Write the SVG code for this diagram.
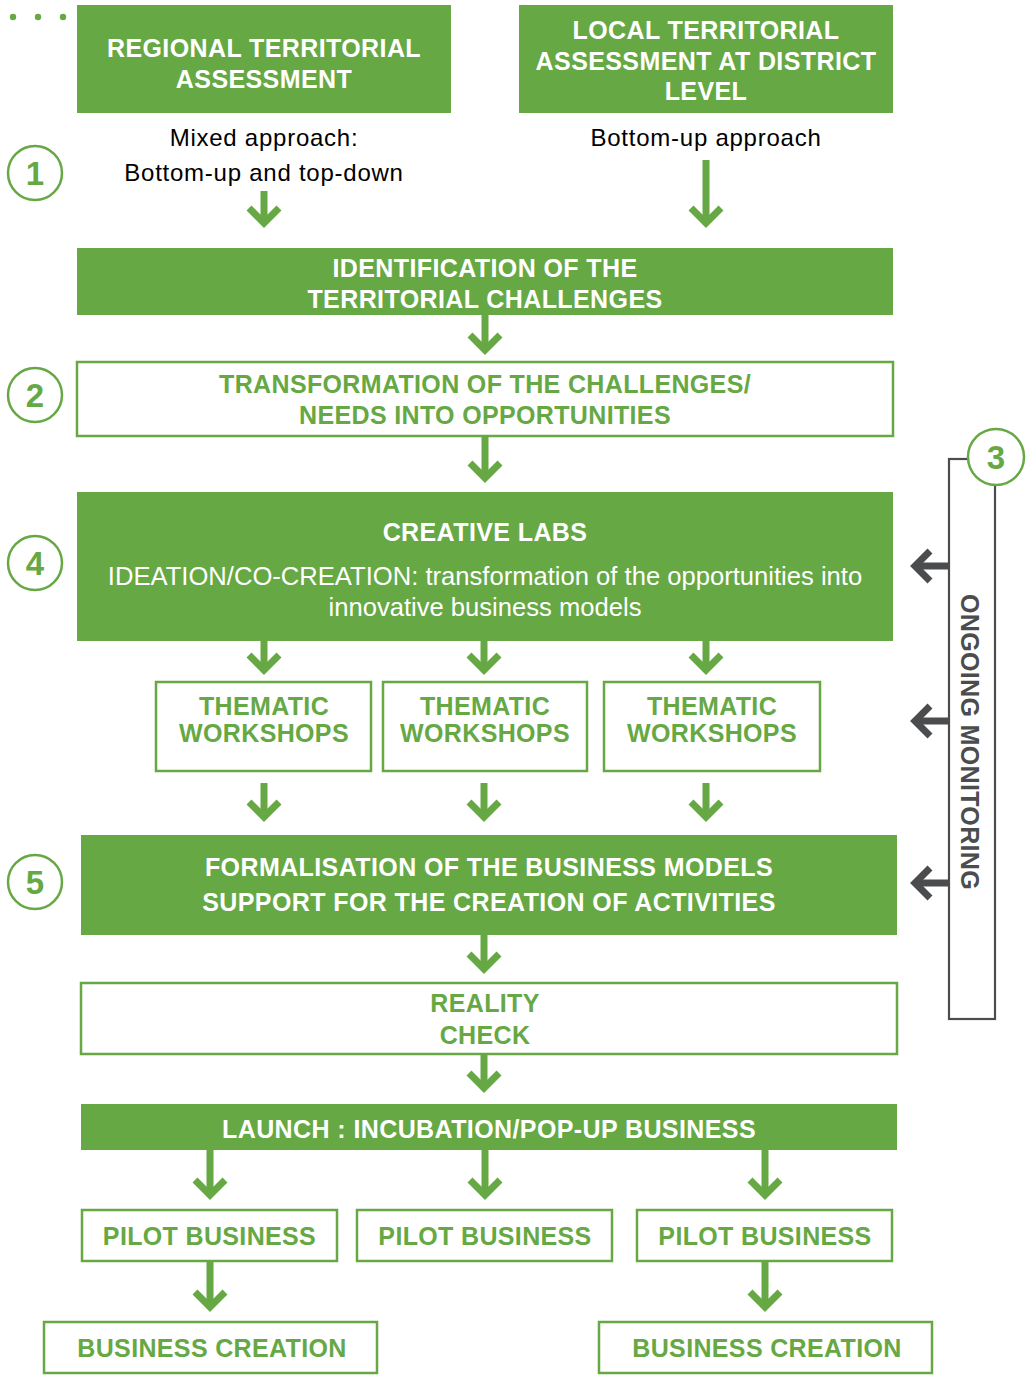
<svg xmlns="http://www.w3.org/2000/svg" width="1031" height="1378" viewBox="0 0 1031 1378">
  <style>
    .fill{fill:#66a844}
    .out{fill:#ffffff;stroke:#66a844;stroke-width:2.5}
    .tw{font-family:"Liberation Sans",Arial,sans-serif;font-weight:bold;font-size:25px;fill:#ffffff;text-anchor:middle;letter-spacing:0.4px}
    .tg{font-family:"Liberation Sans",Arial,sans-serif;font-weight:bold;font-size:25px;fill:#66a844;text-anchor:middle;letter-spacing:0.35px}
    .rw{font-family:"Liberation Sans",Arial,sans-serif;font-size:25.6px;fill:#ffffff;text-anchor:middle}
    .rk{font-family:"Liberation Sans",Arial,sans-serif;font-size:24px;fill:#000000;text-anchor:middle;letter-spacing:0.75px}
    .num{fill:#ffffff;stroke:#66a844;stroke-width:2.5}
    .numt{font-family:"Liberation Sans",Arial,sans-serif;font-weight:bold;font-size:33px;fill:#66a844;text-anchor:middle}
    .conn{stroke:#66a844;stroke-width:7;fill:none}
    .gconn{stroke:#4b4c4e;stroke-width:7;fill:none}
  </style>
  <defs>
    <marker id="ah" markerUnits="userSpaceOnUse" viewBox="-22 -22 44 44" markerWidth="44" markerHeight="44" refX="0" refY="0" orient="auto">
      <path d="M-15,-15 L0,0 L-15,15" fill="none" stroke="#66a844" stroke-width="7" stroke-miterlimit="10"/>
    </marker>
    <marker id="gh" markerUnits="userSpaceOnUse" viewBox="-22 -22 44 44" markerWidth="44" markerHeight="44" refX="0" refY="0" orient="auto">
      <path d="M-15,-15 L0,0 L-15,15" fill="none" stroke="#4b4c4e" stroke-width="7" stroke-miterlimit="10"/>
    </marker>
  </defs>
  <rect width="1031" height="1378" fill="#ffffff"/>

  <g id="dots" class="fill">
    <circle cx="13" cy="17" r="3.2"/>
    <circle cx="38" cy="17" r="3.2"/>
    <circle cx="63" cy="17" r="3.2"/>
  </g>

  <g id="regional">
    <rect class="fill" x="77" y="5" width="374" height="108"/>
    <text class="tw" x="264" y="57">REGIONAL TERRITORIAL</text>
    <text class="tw" x="264" y="88">ASSESSMENT</text>
  </g>
  <g id="local">
    <rect class="fill" x="519" y="5" width="374" height="108"/>
    <text class="tw" x="706" y="39">LOCAL TERRITORIAL</text>
    <text class="tw" x="706" y="70">ASSESSMENT AT DISTRICT</text>
    <text class="tw" x="706" y="100">LEVEL</text>
  </g>
  <g id="label-mixed">
    <text class="rk" x="264" y="146">Mixed approach:</text>
    <text class="rk" x="264" y="181">Bottom-up and top-down</text>
  </g>
  <g id="label-bottomup">
    <text class="rk" x="706" y="146">Bottom-up approach</text>
  </g>

  <g id="identification">
    <rect class="fill" x="77" y="248" width="816" height="67"/>
    <text class="tw" x="485" y="277">IDENTIFICATION OF THE</text>
    <text class="tw" x="485" y="308">TERRITORIAL CHALLENGES</text>
  </g>
  <g id="transformation">
    <rect class="out" x="77" y="362" width="816" height="74"/>
    <text class="tg" x="485" y="393">TRANSFORMATION OF THE CHALLENGES/</text>
    <text class="tg" x="485" y="424">NEEDS INTO OPPORTUNITIES</text>
  </g>
  <g id="creative-labs">
    <rect class="fill" x="77" y="492" width="816" height="149"/>
    <text class="tw" x="485" y="541">CREATIVE LABS</text>
    <text class="rw" x="485" y="585">IDEATION/CO-CREATION: transformation of the opportunities into</text>
    <text class="rw" x="485" y="616">innovative business models</text>
  </g>
  <g id="workshop-1">
    <rect class="out" x="156" y="682" width="215" height="89"/>
    <text class="tg" x="264" y="715">THEMATIC</text>
    <text class="tg" x="264" y="742">WORKSHOPS</text>
  </g>
  <g id="workshop-2">
    <rect class="out" x="383" y="682" width="204" height="89"/>
    <text class="tg" x="485" y="715">THEMATIC</text>
    <text class="tg" x="485" y="742">WORKSHOPS</text>
  </g>
  <g id="workshop-3">
    <rect class="out" x="604" y="682" width="216" height="89"/>
    <text class="tg" x="712" y="715">THEMATIC</text>
    <text class="tg" x="712" y="742">WORKSHOPS</text>
  </g>
  <g id="formalisation">
    <rect class="fill" x="81" y="835" width="816" height="100"/>
    <text class="tw" x="489" y="876">FORMALISATION OF THE BUSINESS MODELS</text>
    <text class="tw" x="489" y="911">SUPPORT FOR THE CREATION OF ACTIVITIES</text>
  </g>
  <g id="reality-check">
    <rect class="out" x="81" y="983" width="816" height="71"/>
    <text class="tg" x="485" y="1012">REALITY</text>
    <text class="tg" x="485" y="1044">CHECK</text>
  </g>
  <g id="launch">
    <rect class="fill" x="81" y="1104" width="816" height="46"/>
    <text class="tw" x="489" y="1138">LAUNCH : INCUBATION/POP-UP BUSINESS</text>
  </g>
  <g id="pilot-1">
    <rect class="out" x="82" y="1210" width="255" height="51"/>
    <text class="tg" x="209.5" y="1245">PILOT BUSINESS</text>
  </g>
  <g id="pilot-2">
    <rect class="out" x="357" y="1210" width="255" height="51"/>
    <text class="tg" x="485" y="1245">PILOT BUSINESS</text>
  </g>
  <g id="pilot-3">
    <rect class="out" x="637" y="1210" width="255" height="51"/>
    <text class="tg" x="765" y="1245">PILOT BUSINESS</text>
  </g>
  <g id="creation-1">
    <rect class="out" x="44" y="1322" width="333" height="51"/>
    <text class="tg" x="212" y="1357">BUSINESS CREATION</text>
  </g>
  <g id="creation-2">
    <rect class="out" x="599" y="1322" width="333" height="51"/>
    <text class="tg" x="767" y="1357">BUSINESS CREATION</text>
  </g>

  <g id="monitoring">
    <rect x="949" y="459" width="46" height="560" fill="#ffffff" stroke="#4b4c4e" stroke-width="2.2"/>
    <text transform="translate(961,742) rotate(90)" font-family="Liberation Sans, Arial, sans-serif" font-weight="bold" font-size="25" fill="#4b4c4e" text-anchor="middle" letter-spacing="0.35">ONGOING MONITORING</text>
  </g>

  <g id="step-1"><circle class="num" cx="35" cy="173" r="27"/><text class="numt" x="35" y="185">1</text></g>
  <g id="step-2"><circle class="num" cx="35" cy="395" r="27"/><text class="numt" x="35" y="407">2</text></g>
  <g id="step-3"><circle class="num" cx="996" cy="457" r="28"/><text class="numt" x="996" y="469">3</text></g>
  <g id="step-4"><circle class="num" cx="35" cy="563" r="27"/><text class="numt" x="35" y="575">4</text></g>
  <g id="step-5"><circle class="num" cx="35" cy="882" r="27"/><text class="numt" x="35" y="894">5</text></g>

  <g id="connectors">
    <line class="conn" x1="264" y1="191" x2="264" y2="223" marker-end="url(#ah)"/>
    <line class="conn" x1="706" y1="160" x2="706" y2="223" marker-end="url(#ah)"/>
    <line class="conn" x1="485" y1="315" x2="485" y2="350" marker-end="url(#ah)"/>
    <line class="conn" x1="485" y1="436" x2="485" y2="478" marker-end="url(#ah)"/>
    <line class="conn" x1="264" y1="641" x2="264" y2="670" marker-end="url(#ah)"/>
    <line class="conn" x1="484" y1="641" x2="484" y2="670" marker-end="url(#ah)"/>
    <line class="conn" x1="706" y1="641" x2="706" y2="670" marker-end="url(#ah)"/>
    <line class="conn" x1="264" y1="783" x2="264" y2="817" marker-end="url(#ah)"/>
    <line class="conn" x1="484" y1="783" x2="484" y2="817" marker-end="url(#ah)"/>
    <line class="conn" x1="706" y1="783" x2="706" y2="817" marker-end="url(#ah)"/>
    <line class="conn" x1="484" y1="935" x2="484" y2="969" marker-end="url(#ah)"/>
    <line class="conn" x1="484" y1="1054" x2="484" y2="1088" marker-end="url(#ah)"/>
    <line class="conn" x1="210" y1="1150" x2="210" y2="1195" marker-end="url(#ah)"/>
    <line class="conn" x1="485" y1="1150" x2="485" y2="1195" marker-end="url(#ah)"/>
    <line class="conn" x1="765" y1="1150" x2="765" y2="1195" marker-end="url(#ah)"/>
    <line class="conn" x1="210" y1="1261" x2="210" y2="1307" marker-end="url(#ah)"/>
    <line class="conn" x1="765" y1="1261" x2="765" y2="1307" marker-end="url(#ah)"/>
    <line class="gconn" x1="949" y1="566" x2="915" y2="566" marker-end="url(#gh)"/>
    <line class="gconn" x1="949" y1="721" x2="915" y2="721" marker-end="url(#gh)"/>
    <line class="gconn" x1="949" y1="883" x2="915" y2="883" marker-end="url(#gh)"/>
  </g>
</svg>
